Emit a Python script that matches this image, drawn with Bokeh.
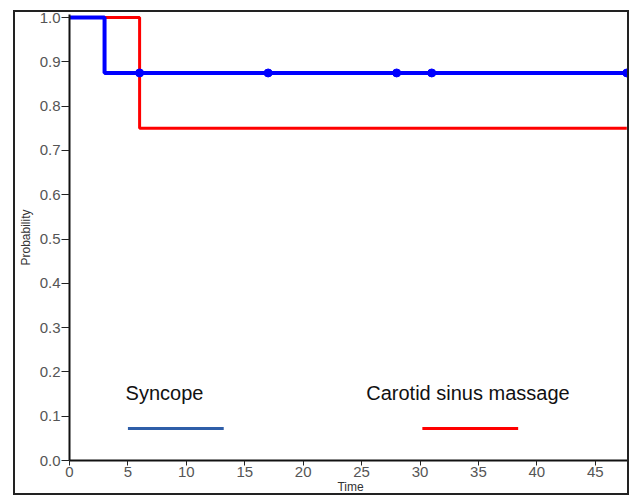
from bokeh.plotting import figure
from bokeh.models import FixedTicker, PrintfTickFormatter, Range1d
from bokeh.core.properties import value
from bokeh.embed import file_html
from bokeh.resources import INLINE

# Kaplan-Meier data
syncope_time = [0, 3, 47.7]
syncope_surv = [1.0, 0.875, 0.875]
syncope_censor_time = [6, 17, 28, 31, 47.7]
syncope_censor_surv = [0.875, 0.875, 0.875, 0.875, 0.875]

csm_time = [0, 6, 47.7]
csm_surv = [1.0, 0.75, 0.75]

x_ticks = [0, 5, 10, 15, 20, 25, 30, 35, 40, 45]
y_ticks = [0.0, 0.1, 0.2, 0.3, 0.4, 0.5, 0.6, 0.7, 0.8, 0.9, 1.0]

legend_labels = ["Syncope", "Carotid sinus massage"]

FONT = "Liberation Sans"

p = figure(width=616, height=485, output_backend="svg", toolbar_location=None,
           x_range=Range1d(0, 48.1), y_range=Range1d(0, 1.007),
           min_border_left=54, min_border_right=0, min_border_top=2, min_border_bottom=37,
           margin=(10, 0, 0, 13))
p.styles = {"border": "2px solid #222"}
p.outline_line_color = None
p.grid.visible = False

for ax in (p.xaxis[0], p.yaxis[0]):
    ax.axis_line_color = "#111"
    ax.axis_line_width = 2
    ax.major_tick_line_color = "#222"
    ax.major_tick_in = 0
    ax.minor_tick_line_color = None
    ax.major_label_text_font = FONT
    ax.major_label_text_font_size = "15px"
    ax.major_label_text_color = "#555"
    ax.axis_label_text_font = FONT
    ax.axis_label_text_font_size = "12px"
    ax.axis_label_text_font_style = "normal"
    ax.axis_label_text_color = "#333"

p.xaxis.ticker = FixedTicker(ticks=x_ticks)
p.yaxis.ticker = FixedTicker(ticks=y_ticks)
p.yaxis.formatter = PrintfTickFormatter(format="%.1f")
p.xaxis.axis_label = "Time"
p.yaxis.axis_label = "Probability"
p.xaxis.major_tick_out = 5
p.yaxis.major_tick_out = 8
p.xaxis.major_label_standoff = 1
p.xaxis.axis_label_standoff = 0
p.yaxis.major_label_standoff = 1
p.yaxis.axis_label_standoff = 4

p.step(csm_time, csm_surv, mode="after", line_color="#ff0000", line_width=3)
p.step(syncope_time, syncope_surv, mode="after", line_color="#0000ff", line_width=4)
p.scatter(syncope_censor_time, syncope_censor_surv, size=8, color="#0000ff")

# custom legend (label above a line sample)
p.text(x=[4.8, 25.4], y=[0.153, 0.153], text=legend_labels,
       text_font=value(FONT), text_font_size="20px", text_color="#111",
       text_baseline="middle", text_align="left")
p.segment(x0=[5.0, 30.2], y0=[0.072, 0.072], x1=[13.2, 38.4], y1=[0.072, 0.072],
          line_color=["#2f5ea8", "#ff0000"], line_width=3)

open("out.html", "w").write(file_html(p, INLINE))
